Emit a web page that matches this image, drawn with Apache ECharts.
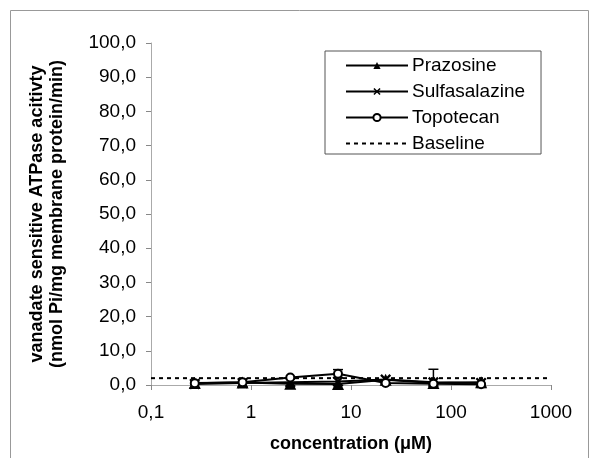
<!DOCTYPE html>
<html lang="en">
<head>
    <meta charset="UTF-8">
    <title>ATPase activity</title>
    <style>
        html, body { margin: 0; padding: 0; background: #fff; }
        #chart { width: 595px; height: 458px; }
    </style>
    <script src="https://cdn.jsdelivr.net/npm/echarts@6/dist/echarts.min.js"></script>
</head>
<body>
    <div id="chart"></div>
    <script>
        // concentrations (uM), 3-fold dilutions
        var conc = [0.274, 0.823, 2.47, 7.41, 22.2, 66.7, 200];
        var prazosine = [0.6, 0.7, 0.4, 0.3, 1.5, 0.6, 0.8];
        var sulfasalazine = [0.3, 0.6, 0.8, 1.0, 1.6, 0.8, 0.6];
        var topotecan = [0.5, 0.8, 2.2, 3.3, 0.6, 0.4, 0.2];
        var baseline = 2.0;
        // error bars: [conc, low, high]
        var errBars = [[7.41, 2.1, 4.5], [66.7, 0.2, 4.6]];

        function pairs(xs, ys) {
            return xs.map(function (x, i) { return [x, ys[i]]; });
        }
        function comma(v) {
            return String(v).replace('.', ',');
        }

        var font = 'Liberation Sans, Arial, sans-serif';
        var crossPath = 'path://M0,1.5L1.5,0L5,3.5L8.5,0L10,1.5L6.5,5L10,8.5L8.5,10L5,6.5L1.5,10L0,8.5L3.5,5Z';

        var chart = echarts.init(document.getElementById('chart'));
        chart.setOption({
            animation: false,
            graphic: [{
                type: 'rect',
                shape: { x: 10.5, y: 10.5, width: 578, height: 470 },
                style: { fill: 'none', stroke: '#999', lineWidth: 1 }
            }],
            grid: { left: 151, right: 44, top: 43, bottom: 73 },
            legend: {
                orient: 'vertical',
                left: 325,
                top: 51,
                padding: [5, 16, 1, 20],
                itemWidth: 62,
                itemHeight: 9,
                itemGap: 7,
                borderColor: '#555',
                borderWidth: 1,
                textStyle: { fontFamily: font, fontSize: 19, color: '#000', padding: [0, 0, 0, -1] },
                data: ['Prazosine', 'Sulfasalazine', 'Topotecan',
                    { name: 'Baseline', itemStyle: { opacity: 0 } }]
            },
            xAxis: {
                type: 'log',
                logBase: 10,
                min: 0.1,
                max: 1000,
                name: 'concentration (\u03bcM)',
                nameLocation: 'middle',
                nameGap: 50,
                nameTextStyle: { fontFamily: font, fontSize: 18, fontWeight: 'bold', color: '#000' },
                axisLine: { lineStyle: { color: '#aaa' } },
                axisTick: { lineStyle: { color: '#888' }, length: 5 },
                axisLabel: { fontFamily: font, fontSize: 19, color: '#000', margin: 18, formatter: comma },
                splitLine: { show: false },
                minorTick: { show: false }
            },
            yAxis: {
                type: 'value',
                min: 0,
                max: 100,
                interval: 10,
                name: 'vanadate sensitive ATPase acitivty\n(nmol Pi/mg membrane protein/min)',
                nameLocation: 'middle',
                nameGap: 84,
                nameTextStyle: { fontFamily: font, fontSize: 18, fontWeight: 'bold', color: '#000', lineHeight: 20 },
                axisLine: { show: true, lineStyle: { color: '#aaa' } },
                axisTick: { show: true, lineStyle: { color: '#888' }, length: 5 },
                axisLabel: { fontFamily: font, fontSize: 19, color: '#000', margin: 15,
                    formatter: function (v) { return comma(v.toFixed(1)); } },
                splitLine: { show: false }
            },
            series: [{
                name: 'Prazosine',
                type: 'line',
                data: pairs(conc, prazosine),
                symbol: 'triangle',
                symbolSize: 12,
                itemStyle: { color: '#000' },
                lineStyle: { color: '#000', width: 2 }
            }, {
                name: 'Sulfasalazine',
                type: 'line',
                data: pairs(conc, sulfasalazine),
                symbol: crossPath,
                symbolSize: 11,
                itemStyle: { color: '#000' },
                lineStyle: { color: '#000', width: 2 }
            }, {
                name: 'Topotecan',
                type: 'line',
                data: pairs(conc, topotecan),
                symbol: 'emptyCircle',
                symbolSize: 8,
                itemStyle: { color: '#000', borderColor: '#000', borderWidth: 1.5 },
                lineStyle: { color: '#000', width: 2 }
            }, {
                name: 'Baseline',
                type: 'line',
                data: [[0.1, baseline], [1000, baseline]],
                showSymbol: false,
                symbol: 'none',
                itemStyle: { color: '#000' },
                lineStyle: { color: '#000', width: 2, type: [4, 4] }
            }, {
                name: 'err',
                type: 'custom',
                data: errBars,
                renderItem: function (params, api) {
                    var lo = api.coord([api.value(0), api.value(1)]);
                    var hi = api.coord([api.value(0), api.value(2)]);
                    var w = 5;
                    return {
                        type: 'group',
                        children: [
                            { type: 'line', shape: { x1: hi[0], y1: hi[1], x2: lo[0], y2: lo[1] }, style: { stroke: '#000', lineWidth: 1.5 } },
                            { type: 'line', shape: { x1: hi[0] - w, y1: hi[1], x2: hi[0] + w, y2: hi[1] }, style: { stroke: '#000', lineWidth: 1.5 } },
                            { type: 'line', shape: { x1: lo[0] - w, y1: lo[1], x2: lo[0] + w, y2: lo[1] }, style: { stroke: '#000', lineWidth: 1.5 } }
                        ]
                    };
                },
                z: 3
            }]
        });
    </script>
</body>
</html>
